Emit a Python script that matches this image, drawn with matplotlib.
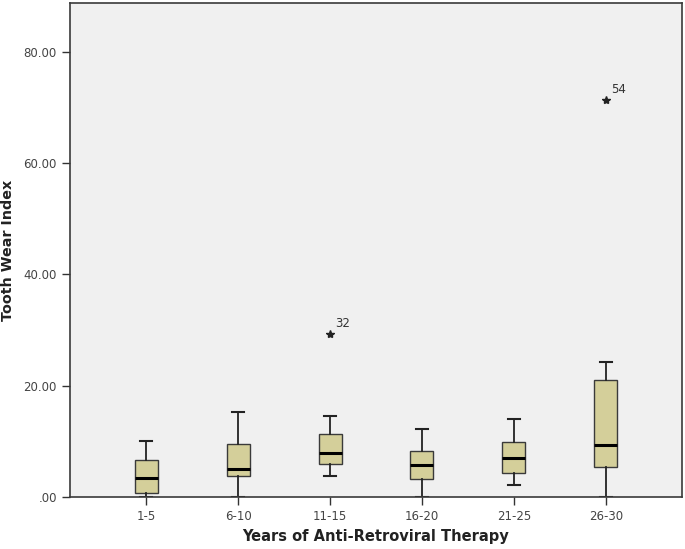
import matplotlib
matplotlib.use("Agg")
import matplotlib.pyplot as plt

categories = ["1-5", "6-10", "11-15", "16-20", "21-25", "26-30"]
whisker_low = [0.0, 0.0, 3.8, 0.0, 2.1, 0.0]
q1 = [0.8, 3.8, 6.0, 3.2, 4.3, 5.4]
medians = [3.5, 5.0, 8.0, 5.8, 7.0, 9.4]
q3 = [6.6, 9.5, 11.4, 8.2, 9.8, 21.0]
whisker_high = [10.0, 15.3, 14.6, 12.2, 14.1, 24.2]
outliers = [[], [], [29.3], [], [], [71.4]]
outlier_labels = [[], [], ["32"], [], [], ["54"]]
yticks = [0, 20, 40, 60, 80]
yticklabels = [".00", "20.00", "40.00", "60.00", "80.00"]

fig = plt.figure(figsize=(6.85, 5.49), dpi=100)
ax = fig.add_axes([0.1022, 0.0947, 0.8934, 0.8998])
ax.set_facecolor("#F0F0F0")

stats = []
for i, c in enumerate(categories):
    stats.append(dict(label=c, whislo=whisker_low[i], q1=q1[i], med=medians[i],
                      q3=q3[i], whishi=whisker_high[i], fliers=[]))
pos = list(range(len(categories)))
ax.bxp(stats, positions=pos, widths=0.25, capwidths=0.13, patch_artist=True,
       showfliers=False,
       boxprops=dict(facecolor="#D4CF9A", edgecolor="#3A3A3A", linewidth=1.0),
       medianprops=dict(color="black", linewidth=2.2),
       whiskerprops=dict(color="#222222", linewidth=1.3),
       capprops=dict(color="#222222", linewidth=1.5))

for i in pos:
    for v, lab in zip(outliers[i], outlier_labels[i]):
        ax.plot([i], [v], marker="*", color="#222222", markersize=6, linestyle="none")
        ax.annotate(lab, (i, v), xytext=(4, 5), textcoords="offset points",
                    fontsize=8.5, color="#333333")

ax.set_xlim(-0.83, 5.83)
ax.set_ylim(0, 88.8)
ax.set_yticks(yticks)
ax.set_yticklabels(yticklabels)
ax.set_xticks(pos)
ax.set_xticklabels(categories)
ax.tick_params(axis="both", direction="out", length=6, width=1.0, colors="#333333",
               labelsize=8.5, labelcolor="#444444")
for s in ax.spines.values():
    s.set_color("#3A3A3A")
    s.set_linewidth(1.2)

ax.set_ylabel("Tooth Wear Index", fontsize=10.3, fontweight="bold", color="#222222")
ax.yaxis.set_label_coords(-0.09, 0.5)
ax.set_xlabel("Years of Anti-Retroviral Therapy", fontsize=10.5, fontweight="bold",
              color="#222222")
ax.xaxis.set_label_coords(0.5, -0.064)

fig.savefig("out.png", dpi=100, facecolor="white")
